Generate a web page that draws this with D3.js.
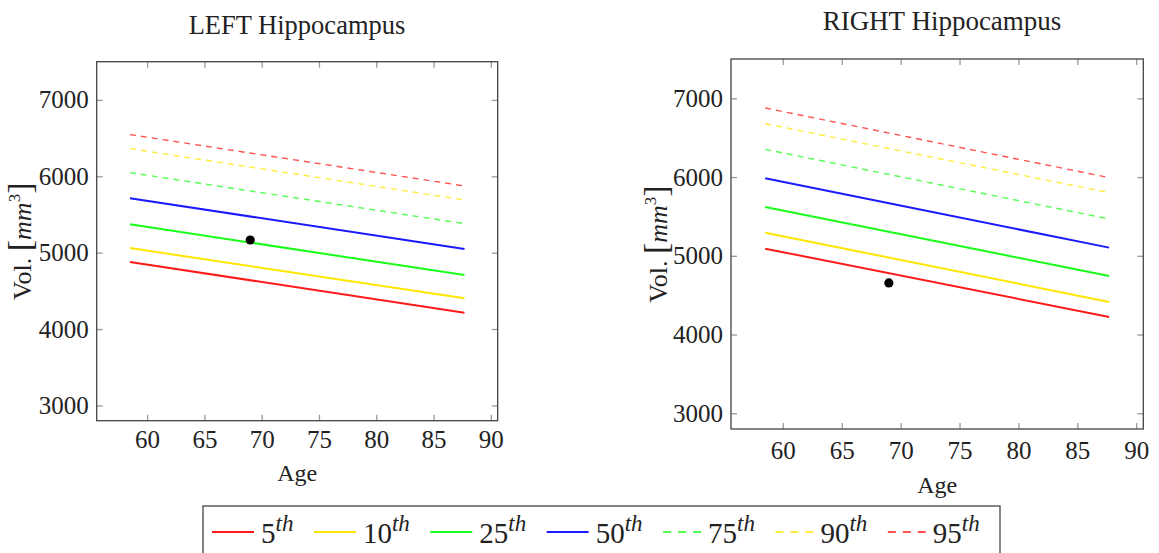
<!DOCTYPE html>
<html>
<head>
<meta charset="utf-8">
<script src="https://cdn.jsdelivr.net/npm/d3@7"></script>
<style>
  body { margin: 0; background: #fff; }
  text { font-family: "Liberation Serif", "DejaVu Serif", serif; fill: #222; }
</style>
</head>
<body>
<div id="chart-area"></div>
<script>
/*
*    hippocampus percentile charts
*/
// percentile curves are straight lines: value at first and last age
var ages = [58.5, 87.7];
var percentiles = ["5", "10", "25", "50", "75", "90", "95"];
var leftValues = [
  [4878, 4213],
  [5061, 4402],
  [5371, 4707],
  [5712, 5048],
  [6048, 5380],
  [6362, 5690],
  [6546, 5873]
];
var rightValues = [
  [5091, 4224],
  [5294, 4414],
  [5621, 4744],
  [5984, 5104],
  [6352, 5468],
  [6678, 5802],
  [6878, 5993]
];
var leftPatient = [69.0, 5166];
var rightPatient = [69.0, 4656];
var xTicks = [60, 65, 70, 75, 80, 85, 90];
var yTicks = [3000, 4000, 5000, 6000, 7000];

var colors = ["#ff1a1a", "#ffe600", "#1aff1a", "#1a1aff", "#1aff1a", "#ffe600", "#ff1a1a"];
var dashed = [false, false, false, false, true, true, true];

var svg = d3.select("#chart-area").append("svg")
            .attr("width", 1159)
            .attr("height", 553);

function drawPanel(p, values, patient) {
  var x = d3.scaleLinear()
            .domain([55.6, 90.6])
            .range([0, p.w]);
  var y = d3.scaleLinear()
            .domain([2800, 7500])
            .range([p.h, 0]);

  var g = svg.append("g")
             .attr("transform", "translate(" + p.x + "," + p.y + ")");

  // ticks on all four sides, pointing in
  g.append("g")
   .attr("transform", "translate(0," + p.h + ")")
   .call(d3.axisBottom(x).tickValues(xTicks).tickSizeInner(-6).tickSizeOuter(0).tickPadding(p.xPad).tickFormat(d3.format("d")));
  g.append("g")
   .call(d3.axisTop(x).tickValues(xTicks).tickSizeInner(-6).tickSizeOuter(0).tickFormat(""));
  g.append("g")
   .call(d3.axisLeft(y).tickValues(yTicks).tickSizeInner(-6).tickSizeOuter(0).tickPadding(8).tickFormat(d3.format("d")));
  g.append("g")
   .attr("transform", "translate(" + p.w + ",0)")
   .call(d3.axisRight(y).tickValues(yTicks).tickSizeInner(-6).tickSizeOuter(0).tickFormat(""));

  g.selectAll(".domain").remove();
  g.selectAll(".tick line")
   .attr("stroke", "#9a9a9a")
   .attr("stroke-width", 1.3);
  g.selectAll(".tick text")
   .style("font-size", "25px")
   .style("font-family", "'Liberation Serif', serif")
   .style("fill", "#222");

  var line = d3.line()
               .x((d, i) => { return x(ages[i]); })
               .y((d) => { return y(d); });

  g.selectAll(".curve")
   .data(values)
   .enter()
   .append("path")
     .attr("class", "curve")
     .attr("d", (d) => { return line(d); })
     .attr("fill", "none")
     .attr("stroke", (d, i) => { return colors[i]; })
     .attr("stroke-width", (d, i) => { return dashed[i] ? 1.4 : 2; })
     .attr("stroke-opacity", (d, i) => { return dashed[i] ? 0.75 : 1; })
     .attr("stroke-dasharray", (d, i) => { return dashed[i] ? "6,5" : null; });

  g.append("circle")
   .attr("cx", x(patient[0]))
   .attr("cy", y(patient[1]))
   .attr("r", 4.6)
   .attr("fill", "#000");

  g.append("rect")
   .attr("width", p.w)
   .attr("height", p.h)
   .attr("fill", "none")
   .attr("stroke", "#444")
   .attr("stroke-width", 1.3);

  svg.append("text")
     .attr("x", p.titleX)
     .attr("y", p.titleY)
     .attr("text-anchor", "middle")
     .attr("font-size", p.titleSize)
     .text(p.title);

  svg.append("text")
     .attr("x", p.x + p.w / 2)
     .attr("y", p.ageY)
     .attr("text-anchor", "middle")
     .attr("font-size", 24)
     .text("Age");

  var vol = svg.append("text")
               .attr("transform", "translate(" + p.volX + "," + (p.y + p.h / 2) + ") rotate(-90)")
               .attr("text-anchor", "middle")
               .attr("font-size", 26);
  vol.append("tspan").text("Vol. ");
  vol.append("tspan").attr("font-size", 34).text("[");
  vol.append("tspan").attr("font-style", "italic").text("mm");
  vol.append("tspan").attr("font-size", 17).attr("dy", -11).text("3");
  vol.append("tspan").attr("font-size", 34).attr("dy", 11).text("]");
}

drawPanel({x: 96.7, y: 61.7, w: 401, h: 359, xPad: 10, titleX: 297, titleY: 34, titleSize: 26.5,
           title: "LEFT Hippocampus", ageY: 481, volX: 31}, leftValues, leftPatient);
drawPanel({x: 731, y: 59, w: 412.3, h: 370, xPad: 12, titleX: 942, titleY: 30, titleSize: 27,
           title: "RIGHT Hippocampus", ageY: 493, volX: 667}, rightValues, rightPatient);

// legend
var legend = svg.append("g");
legend.append("rect")
      .attr("x", 203)
      .attr("y", 506)
      .attr("width", 797)
      .attr("height", 60)
      .attr("fill", "#fff")
      .attr("stroke", "#444")
      .attr("stroke-width", 1.3);

var lx = 212;
percentiles.forEach((name, i) => {
  var sampleLen = dashed[i] ? 38 : 42;
  legend.append("line")
        .attr("x1", lx)
        .attr("x2", lx + sampleLen)
        .attr("y1", 532)
        .attr("y2", 532)
        .attr("stroke", colors[i])
        .attr("stroke-width", dashed[i] ? 1.4 : 2)
        .attr("stroke-dasharray", dashed[i] ? "8,7" : null);
  var t = legend.append("text")
                .attr("x", lx + sampleLen + 7)
                .attr("y", 543)
                .attr("font-size", 29);
  t.append("tspan").text(name);
  t.append("tspan")
   .attr("font-size", 23)
   .attr("font-style", "italic")
   .attr("dy", -12)
   .text("th");
  lx = lx + sampleLen + 7 + t.node().getComputedTextLength() + 20.5;
});
</script>
</body>
</html>
